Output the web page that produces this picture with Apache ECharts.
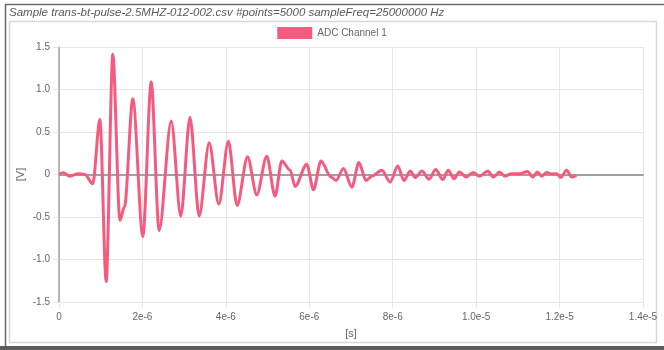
<!DOCTYPE html>
<html>
<head>
<meta charset="utf-8">
<script src="https://cdn.jsdelivr.net/npm/echarts@6/dist/echarts.min.js"></script>
<style>
  html, body { margin: 0; padding: 0; background: #fff; }
  #main { width: 664px; height: 350px; }
</style>
</head>
<body>
<div id="main"></div>
<script>
// time of each sample in microseconds
var timesUs = [
  0, 0.10, 0.26, 0.46, 0.62, 0.81, 0.98, 1.13, 1.29, 1.46, 1.57,
  1.77, 2.01, 2.21, 2.40, 2.69, 2.92, 3.14, 3.36, 3.60, 3.83, 4.06, 4.27,
  4.52, 4.74, 4.98, 5.18, 5.34, 5.54, 5.66, 5.94, 6.10, 6.28, 6.52,
  6.64, 6.82, 7.02, 7.19, 7.36, 7.50, 7.74, 7.94, 8.12, 8.27, 8.42, 8.54,
  8.70, 8.87, 9.03, 9.20, 9.33, 9.47, 9.60, 9.76, 9.93, 10.08, 10.28, 10.41,
  10.56, 10.69, 10.85, 11.05, 11.23, 11.36, 11.47, 11.57, 11.69, 11.81,
  11.93, 12.03, 12.17, 12.29, 12.40
];
// ADC Channel 1 voltage [V]
var volts = [
  0, 0.02, -0.02, 0.01, 0, -0.11, 0.65, -1.26, 1.415, -0.54, -0.38,
  0.89, -0.73, 1.09, -0.66, 0.63, -0.49, 0.67, -0.49, 0.375, -0.35, 0.39, -0.365,
  0.21, -0.24, 0.215, -0.255, 0.16, 0.05, -0.14, 0.12, -0.18, 0.16, -0.03,
  -0.07, 0.07, -0.15, 0.14, -0.07, -0.02, 0.05, -0.09, 0.10, -0.07, 0.04, -0.035,
  0.04, -0.055, 0.06, -0.06, 0.05, -0.05, 0.03, -0.03, 0.025, -0.02, 0.04, -0.03,
  0.03, -0.02, 0.01, 0.01, 0.035, -0.03, 0.03, -0.02, 0.025, 0.005,
  0.01, -0.035, 0.05, -0.03, -0.01
];
var xTickLabels = ['0', '2e-6', '4e-6', '6e-6', '8e-6', '1.0e-5', '1.2e-5', '1.4e-5'];
var yTickLabels = ['-1.5', '-1.0', '-0.5', '0', '0.5', '1.0', '1.5'];

var seriesData = [];
var i;
for (i = 0; i < timesUs.length; i++) {
  seriesData.push([timesUs[i] * 1e-6, volts[i]]);
}

var chart = echarts.init(document.getElementById('main'), null, { renderer: 'canvas' });

var lineColor = '#f45b7e';
var option = {
  animation: false,
  backgroundColor: '#fff',
  title: {
    text: 'Sample trans-bt-pulse-2.5MHZ-012-002.csv #points=5000 sampleFreq=25000000 Hz',
    left: 9,
    top: 7,
    padding: 0,
    textStyle: {
      fontFamily: 'Liberation Sans',
      fontSize: 11.5,
      fontStyle: 'italic',
      fontWeight: 'normal',
      color: '#5a5a5a'
    }
  },
  legend: {
    top: 27,
    left: 'center',
    padding: 0,
    itemWidth: 35,
    itemHeight: 12,
    itemGap: 5,
    icon: 'rect',
    data: ['ADC Channel 1'],
    textStyle: { fontFamily: 'Liberation Sans', fontSize: 10, color: '#666' }
  },
  grid: { left: 59, right: 21, top: 47, bottom: 48 },
  xAxis: [{
    type: 'value',
    min: 0,
    max: 1.4e-5,
    interval: 2e-6,
    name: '[s]',
    nameLocation: 'middle',
    nameGap: 26,
    nameMoveOverlap: false,
    nameTextStyle: { fontFamily: 'Liberation Sans', fontSize: 11, color: '#666' },
    axisLine: { show: false, onZero: false },
    axisTick: { show: true, length: 6, lineStyle: { color: '#e6e6e6' } },
    splitLine: { show: true, lineStyle: { color: '#e6e6e6' } },
    axisLabel: {
      margin: 10,
      fontFamily: 'Liberation Sans',
      fontSize: 10,
      color: '#666',
      formatter: function (v) { return xTickLabels[Math.round(v / 2e-6)]; }
    }
  }, {
    type: 'value',
    min: 0,
    max: 1.4e-5,
    position: 'bottom',
    axisLine: { show: true, onZero: true, lineStyle: { color: '#a0a0a0', width: 2 } },
    axisTick: { show: false },
    axisLabel: { show: false },
    splitLine: { show: false }
  }],
  yAxis: {
    type: 'value',
    min: -1.5,
    max: 1.5,
    interval: 0.5,
    name: '[V]',
    nameLocation: 'middle',
    nameGap: 33,
    nameMoveOverlap: false,
    nameTextStyle: { fontFamily: 'Liberation Sans', fontSize: 11, color: '#666' },
    axisLine: { show: true, onZero: false, lineStyle: { color: '#a0a0a0', width: 1.5 } },
    axisTick: { show: true, length: 6, lineStyle: { color: '#e6e6e6' } },
    splitLine: { show: true, lineStyle: { color: '#e6e6e6' } },
    axisLabel: {
      margin: 9,
      fontFamily: 'Liberation Sans',
      fontSize: 10,
      color: '#666',
      formatter: function (v) { return yTickLabels[Math.round((v + 1.5) / 0.5)]; }
    }
  },
  graphic: [
    { type: 'rect', z: -10, silent: true,
      shape: { x: 5.5, y: 4.5, width: 670, height: 360 },
      style: { fill: 'none', stroke: '#6a6a6a', lineWidth: 1.5 } },
    { type: 'rect', z: -10, silent: true,
      shape: { x: 9.5, y: 21.5, width: 647, height: 321 },
      style: { fill: 'none', stroke: '#d8d8d8', lineWidth: 1.5 } },
    { type: 'rect', z: -10, silent: true,
      shape: { x: 0, y: 346, width: 664, height: 4 },
      style: { fill: '#5c5c5c' } }
  ],
  series: [{
    name: 'ADC Channel 1',
    type: 'line',
    xAxisIndex: 0,
    data: seriesData,
    showSymbol: false,
    smooth: 0.3,
    smoothMonotone: 'x',
    itemStyle: { color: lineColor },
    lineStyle: { color: lineColor, width: 3 }
  }]
};
chart.setOption(option);
</script>
</body>
</html>
